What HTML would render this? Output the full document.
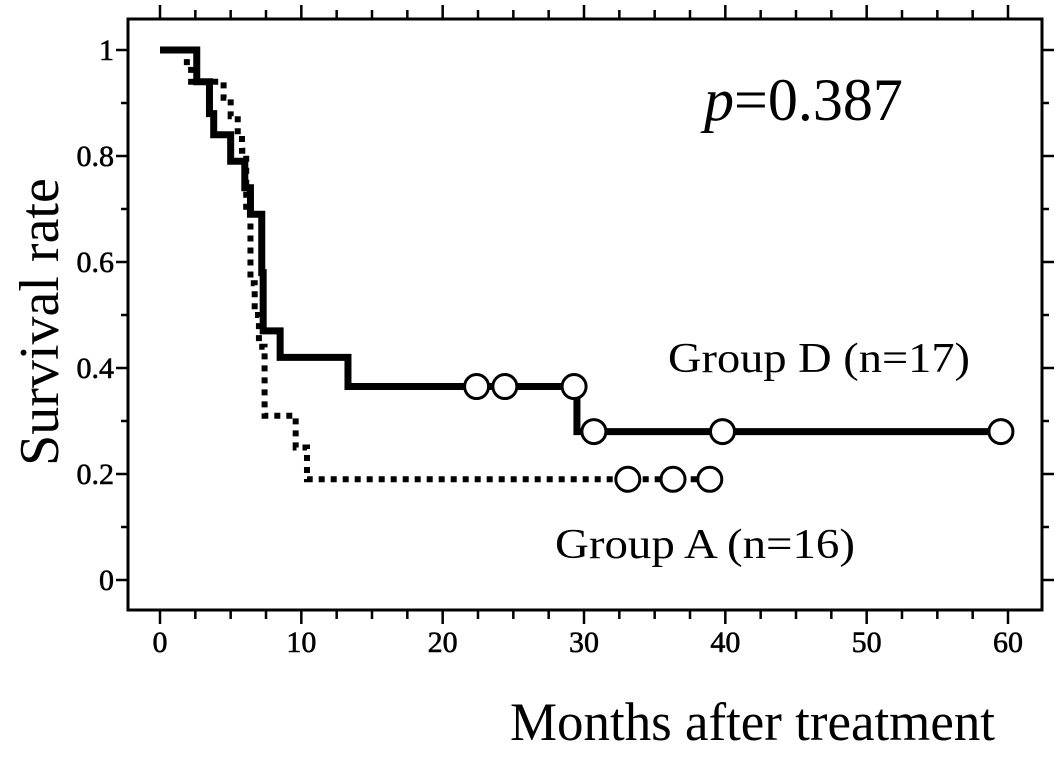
<!DOCTYPE html>
<html><head><meta charset="utf-8"><style>
html,body{margin:0;padding:0;background:#fff;}
svg{display:block;font-family:"Liberation Serif",serif;}
</style></head><body>
<svg id="chart" width="1063" height="759" viewBox="0 0 1063 759">
<rect width="1063" height="759" fill="#fff"/>
<g id="axes"></g>
<g id="series"></g>
<text x="704" y="120" font-size="60"><tspan font-style="italic">p</tspan>=0.387</text>
<text x="668" y="372" font-size="42" textLength="302" lengthAdjust="spacingAndGlyphs">Group D (n=17)</text>
<text x="555" y="558" font-size="42" textLength="300" lengthAdjust="spacingAndGlyphs">Group A (n=16)</text>
<text x="0" y="0" font-size="56" text-anchor="middle" transform="translate(58,322) rotate(-90)">Survival rate</text>
<text x="510" y="740" font-size="54" textLength="485" lengthAdjust="spacingAndGlyphs">Months after treatment</text>
</svg>
<script>
const xTicks=[0,10,20,30,40,50,60];
const yTicks=[0,0.2,0.4,0.6,0.8,1];
const yTickLabels=["0","0.2","0.4","0.6","0.8","1"];
const groupDTimes=[0,2.6,3.5,3.8,5.0,6.0,6.4,7.2,7.3,8.5,13.3,29.5];
const groupDValues=[1,0.94,0.88,0.84,0.79,0.74,0.69,0.58,0.47,0.42,0.365,0.28];
const groupDEnd=59.5;
const groupDCensorTimes=[22.4,24.4,29.3,30.7,39.8,59.5];
const groupDCensorValues=[0.365,0.365,0.365,0.28,0.28,0.28];
const groupATimes=[0,1.9,2.2,4.5,5.0,5.5,5.8,6.1,6.4,6.7,7.0,7.4,9.6,10.4];
const groupAValues=[1,0.97,0.94,0.91,0.875,0.84,0.81,0.69,0.56,0.5,0.44,0.31,0.25,0.19];
const groupAEnd=38.9;
const groupACensorTimes=[33.1,36.3,38.9];
const groupACensorValues=[0.19,0.19,0.19];

const NS="http://www.w3.org/2000/svg";
const L=128,R=1042,T=19,B=610;
const sx=m=>160+m*(1008-160)/60;
const sy=v=>580-v*530;
const axes=document.getElementById('axes');
const series=document.getElementById('series');
function mk(tag,attrs,parent){const e=document.createElementNS(NS,tag);for(const k in attrs)e.setAttribute(k,attrs[k]);parent.appendChild(e);return e;}

const frame=mk('rect',{x:L,y:T,width:R-L,height:B-T,fill:'none',stroke:'#000','stroke-width':3},axes);



for(let m=0;m<=60.01;m+=2.5){
  const major=Math.abs(m/10-Math.round(m/10))<1e-6;
  const len=major?14:9;
  const x=sx(m);
  const t1=mk('line',{x1:x,y1:B,x2:x,y2:B+len,stroke:'#000','stroke-width':2.5},axes);
  
  
  const t2=mk('line',{x1:x,y1:T,x2:x,y2:T-len,stroke:'#000','stroke-width':2.5},axes);
  
  
}
xTicks.forEach(v=>{
  const t=mk('text',{x:sx(v),y:652,'font-size':30,'text-anchor':'middle',stroke:'#000','stroke-width':0.6},axes);
  t.textContent=v;
  
  
});
for(let i=0;i<=10;i++){
  const v=i/10,y=sy(v),major=i%2===0,len=major?12:7;
  const a=mk('line',{x1:L,y1:y,x2:L-len,y2:y,stroke:'#000','stroke-width':2.5},axes);
  
  
  const b=mk('line',{x1:R,y1:y,x2:R+len,y2:y,stroke:'#000','stroke-width':2.5},axes);
  
  
}
yTicks.forEach((v,i)=>{
  const t=mk('text',{x:114,y:sy(v)+10,'font-size':30,'text-anchor':'end',stroke:'#000','stroke-width':0.6},axes);
  t.textContent=yTickLabels[i];
  
  
});

function stepPath(times,vals,end){
  let d='M'+sx(times[0])+','+sy(vals[0]);
  for(let i=1;i<times.length;i++){d+=' H'+sx(times[i])+' V'+sy(vals[i]);}
  d+=' H'+sx(end);return d;
}
const pa=mk('path',{d:stepPath(groupATimes,groupAValues,groupAEnd),fill:'none',stroke:'#000','stroke-width':6,'stroke-dasharray':'6 6'},series);


const pd=mk('path',{d:stepPath(groupDTimes,groupDValues,groupDEnd),fill:'none',stroke:'#000','stroke-width':7},series);


groupDCensorTimes.forEach((t,i)=>{
  const c=mk('circle',{cx:sx(t),cy:sy(groupDCensorValues[i]),r:12,fill:'#fff',stroke:'#000','stroke-width':3},series);
  
  
});
groupACensorTimes.forEach((t,i)=>{
  const c=mk('circle',{cx:sx(t),cy:sy(groupACensorValues[i]),r:12,fill:'#fff',stroke:'#000','stroke-width':3},series);
  
  
});
</script>
</body></html>
